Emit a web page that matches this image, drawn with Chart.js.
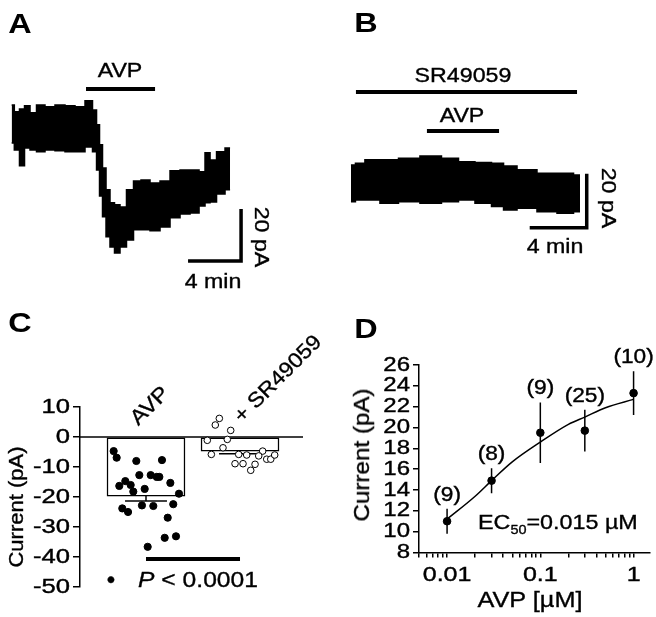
<!DOCTYPE html>
<html>
<head>
<meta charset="utf-8">
<script src="https://cdn.jsdelivr.net/npm/chart.js@4.4.1/dist/chart.umd.min.js"></script>
<style>
body { margin: 0; background: #fff; }
#fig { position: relative; width: 656px; height: 617px; overflow: hidden; font-family: "Liberation Sans", Arial, sans-serif; color: #000; }
#fig canvas { position: absolute; }
.t { position: absolute; white-space: nowrap; line-height: 1; -webkit-text-stroke: 0.35px #000; }
</style>
</head>
<body>
<div id="fig">
  <canvas id="chartA" width="328" height="300" style="left:0;top:0"></canvas>
  <canvas id="chartB" width="326" height="300" style="left:330px;top:0"></canvas>
  <canvas id="chartC" width="330" height="317" style="left:0;top:300px"></canvas>
  <canvas id="chartD" width="326" height="317" style="left:330px;top:300px"></canvas>
</div>
<script>
// A: whole-cell current, AVP alone (min, pA) - upper / lower edge of the noisy trace
const aTime  = [0.05,0.45,0.83,1.21,1.66,2.19,2.94,3.70,4.45,5.21,5.96,6.34,6.57,6.79,7.02,7.32,7.62,8.00,8.45,8.98,9.51,10.11,10.87,11.62,12.38,13.13,13.89,14.49,14.79,15.25,15.77,16.53];
const aUpper = [8.8,6.2,7.3,8.5,5.8,8.8,8.1,8.8,8.5,8.1,10.4,6.9,1.2,-6.5,-15.4,-23.8,-28.8,-29.6,-30.4,-23.8,-20.4,-20.0,-21.2,-20.4,-16.5,-16.2,-16.2,-16.9,-9.6,-12.3,-9.2,-7.7];
const aLower = [-5.8,-8.5,-14.6,-7.7,-8.5,-9.2,-8.5,-8.8,-9.2,-9.2,-7.3,-9.2,-16.2,-26.2,-34.2,-41.9,-45.8,-48.1,-45.8,-43.1,-39.2,-39.2,-39.6,-38.1,-34.6,-33.1,-32.7,-30.0,-28.8,-28.5,-25.4,-23.8];
const aAvp = [5.66, 10.87];

// B: AVP in presence of SR49059
const bTime  = [0,0.63,1.33,2.74,3.93,5.75,6.95,8.14,9.26,10.46,10.95,12.35,13.75,15.16,16.07];
const bUpper = [7.4,8.0,9.3,9.3,9.9,10.7,9.9,8.6,8.3,8.0,7.0,5.6,4.3,4.3,3.7];
const bLower = [-6.2,-5.6,-5.6,-6.8,-6.2,-6.8,-6.2,-5.6,-6.8,-8.0,-9.3,-8.6,-9.9,-10.5,-9.9];
const bSr  = [0.35, 15.86];
const bAvp = [5.33, 10.39];

// scale bars
const barMin = 4, barPa = 20;

// C: individual cells and mean +/- SEM
const cGroups = ['AVP', '+ SR49059'];
const cAvpX = [0.656,0.688,0.897,1.170,0.929,1.050,1.114,1.142,0.780,0.716,0.837,0.865,0.986,1.259,1.351,0.748,0.809,0.957,1.078,1.290,1.231,1.199,1.319,1.018];
const cAvpY = [-4.7,-6.9,-8.0,-7.7,-12.7,-12.7,-13.3,-13.3,-14.7,-16.3,-16.0,-18.2,-17.3,-15.3,-18.9,-23.8,-25.0,-22.8,-23.0,-22.4,-26.9,-33.6,-33.1,-36.6];
const cSrX = [1.780,1.737,1.901,1.652,1.865,1.819,1.695,1.986,2.071,2.241,2.199,1.947,2.032,2.160,2.114,2.284,2.327,2.369];
const cSrY = [6.2,4.0,2.2,-1.1,-0.8,-3.6,-5.8,-5.8,-6.0,-4.7,-6.3,-8.9,-8.9,-9.1,-11.1,-7.4,-7.4,-6.0];
const cMean = [-19.7, -4.7];
const cSem = [1.6, 0.9];
const cTicks = [-50, -40, -30, -20, -10, 0, 10];

// D: concentration-response
const dConc = [0.01, 0.03, 0.1, 0.3, 1];
const dMean = [11.0, 14.9, 19.5, 19.7, 23.3];
const dErr  = [1.2, 1.2, 2.9, 2.0, 2.1];
const dN    = [9, 8, 9, 25, 10];
const fitConc    = [0.01, 0.02, 0.03, 0.05, 0.1, 0.2, 0.3, 0.5, 1];
const fitCurrent = [11.2, 13.4, 14.9, 16.7, 18.6, 20.3, 21.0, 21.9, 22.7];
const dXLabels = [0.01, 0.1, 1];

Chart.defaults.animation = false;
Chart.defaults.responsive = false;
Chart.defaults.plugins.legend.display = false;
Chart.defaults.plugins.tooltip.enabled = false;
Chart.defaults.font.family = '"Liberation Sans", Arial, sans-serif';

const FONT = '"Liberation Sans", Arial, sans-serif';
const fig = document.getElementById('fig');

function addText(html, x, y, o = {}) {
  const d = document.createElement('div');
  d.className = 't';
  d.innerHTML = html;
  d.style.left = x + 'px';
  d.style.top = y + 'px';
  d.style.fontSize = (o.size || 20) + 'px';
  if (o.bold) { d.style.fontWeight = 'bold'; d.style.webkitTextStroke = '0'; }
  const sx = o.sx || 1.16;
  if (o.left) {
    d.style.transformOrigin = '0 50%';
    d.style.transform = 'translate(0,-50%) scaleX(' + sx + ')';
  } else {
    d.style.transform = 'translate(-50%,-50%) rotate(' + (o.rot || 0) + 'deg) scaleX(' + sx + ')';
  }
  fig.appendChild(d);
}

function canvasText(ctx, text, x, y, size, align, sx) {
  ctx.save();
  ctx.translate(x, y);
  ctx.scale(sx, 1);
  ctx.font = size + 'px ' + FONT;
  ctx.fillStyle = '#000';
  ctx.strokeStyle = '#000';
  ctx.lineWidth = 0.4;
  ctx.textAlign = align;
  ctx.textBaseline = 'middle';
  ctx.fillText(text, 0, 0);
  ctx.strokeText(text, 0, 0);
  ctx.restore();
}

function seg(points, width, order) {
  return { type: 'line', data: points, borderColor: '#000', borderWidth: width, pointRadius: 0, fill: false, tension: 0, order: order || 0 };
}

function xy(xs, ys) {
  return xs.map((x, i) => ({ x: x, y: ys[i] }));
}

// noisy recording drawn as a filled band between its two edges
function traceSets(time, upper, lower) {
  return [
    { type: 'line', data: xy(time, upper), borderColor: '#000', borderWidth: 1.5, pointRadius: 0, fill: false, stepped: 'middle' },
    { type: 'line', data: xy(time, lower), borderColor: '#000', borderWidth: 1.5, pointRadius: 0, fill: '-1', backgroundColor: '#000', stepped: 'middle' }
  ];
}

function scaleBar(cx, cy) {
  return seg([{ x: cx - barMin, y: cy }, { x: cx, y: cy }, { x: cx, y: cy + barPa }], 3.5);
}

// ---- A ----
new Chart(document.getElementById('chartA'), {
  type: 'line',
  data: {
    datasets: traceSets(aTime, aUpper, aLower).concat([
      seg([{ x: aAvp[0], y: 15 }, { x: aAvp[1], y: 15 }], 4),
      scaleBar(17.36, -51.2)
    ])
  },
  options: {
    layout: { padding: 0 },
    scales: {
      x: { type: 'linear', display: false, min: -0.83, max: 23.92 },
      y: { display: false, min: -66.2, max: 49.2 }
    }
  }
});

// ---- B ----
new Chart(document.getElementById('chartB'), {
  type: 'line',
  data: {
    datasets: traceSets(bTime, bUpper, bLower).concat([
      seg([{ x: bSr[0], y: 34.4 }, { x: bSr[1], y: 34.4 }], 4),
      seg([{ x: bAvp[0], y: 20.0 }, { x: bAvp[1], y: 20.0 }], 4),
      scaleBar(16.54, -15.8)
    ])
  },
  options: {
    layout: { padding: 0 },
    scales: {
      x: { type: 'linear', display: false, min: -1.47, max: 21.40 },
      y: { display: false, min: -42.6, max: 68.5 }
    }
  }
});

// ---- C ----
const cXMin = 0.298, cXMax = 2.670, capHalf = 0.223;
const cErrSets = [];
cMean.forEach((m, i) => {
  const x = i + 1, lo = m - cSem[i];
  cErrSets.push(seg([{ x: x, y: m }, { x: x, y: lo }], 1.5, 2));
  cErrSets.push(seg([{ x: x - capHalf, y: lo }, { x: x + capHalf, y: lo }], 1.5, 2));
});

new Chart(document.getElementById('chartC'), {
  type: 'bar',
  data: {
    datasets: [
      { type: 'scatter', data: xy(cAvpX, cAvpY), pointRadius: 3.6, pointBackgroundColor: '#000', pointBorderColor: '#000', order: 1 },
      { type: 'scatter', data: xy(cSrX, cSrY), pointRadius: 3.3, pointBackgroundColor: '#fff', pointBorderColor: '#000', pointBorderWidth: 1, order: 1 },
      ...cErrSets,
      seg([{ x: 1, y: -40.7 }, { x: 2, y: -40.7 }], 4, 2),
      seg([{ x: cXMin, y: 0 }, { x: cXMax, y: 0 }], 1.5, 3),
      { type: 'bar', data: [{ x: 1, y: cMean[0] }, { x: 2, y: cMean[1] }], barThickness: 78, backgroundColor: '#fff', borderColor: '#000', borderWidth: 1.5, borderSkipped: false, order: 4 }
    ]
  },
  options: {
    layout: { padding: { left: 0, top: 107, right: 27, bottom: 30 } },
    scales: {
      x: { type: 'linear', display: false, min: cXMin, max: cXMax, offset: false },
      y: {
        min: -50, max: 10,
        afterBuildTicks: s => { s.ticks = cTicks.map(v => ({ value: v })); },
        ticks: { display: false },
        grid: { drawOnChartArea: false, drawTicks: true, tickLength: 7, color: '#000', lineWidth: 1.5 },
        border: { display: true, color: '#000', width: 1.5 },
        afterFit: s => { s.width = 80; }
      }
    }
  },
  plugins: [{
    id: 'cLabels',
    afterDraw(chart) {
      const y = chart.scales.y;
      y.ticks.forEach(t => canvasText(chart.ctx, String(t.value), y.right - 10, y.getPixelForValue(t.value), 20, 'right', 1.28));
    }
  }]
});

// ---- D ----
const dErrPts = [];
dConc.forEach((c, i) => {
  dErrPts.push({ x: c, y: dMean[i] + dErr[i] }, { x: c, y: dMean[i] - dErr[i] }, { x: c, y: null });
});

new Chart(document.getElementById('chartD'), {
  type: 'scatter',
  data: {
    datasets: [
      { type: 'scatter', data: xy(dConc, dMean), pointRadius: 3.8, pointBackgroundColor: '#000', pointBorderColor: '#000', order: 1 },
      { type: 'line', data: dErrPts, borderColor: '#000', borderWidth: 1.5, pointRadius: 0, spanGaps: false, order: 2 },
      { type: 'line', data: xy(fitConc, fitCurrent), borderColor: '#000', borderWidth: 1.5, pointRadius: 0, cubicInterpolationMode: 'monotone', order: 3 }
    ]
  },
  options: {
    layout: { padding: { left: 0, top: 65, right: 6, bottom: 0 } },
    scales: {
      x: {
        type: 'logarithmic', min: 0.005, max: 1.5,
        ticks: { display: false },
        afterBuildTicks: s => {
          s.ticks = s.ticks.filter(t => {
            const e = Math.floor(Math.log10(t.value) + 1e-9);
            const sig = t.value / Math.pow(10, e);
            return Math.abs(sig - Math.round(sig)) < 1e-6;
          });
        },
        grid: { drawOnChartArea: false, drawTicks: true, tickLength: 5, color: '#000', lineWidth: 1.5 },
        border: { display: true, color: '#000', width: 1.5 },
        afterFit: s => { s.height = 64.5; }
      },
      y: {
        min: 8, max: 26,
        ticks: { display: false, stepSize: 2 },
        grid: { drawOnChartArea: false, drawTicks: true, tickLength: 6, color: '#000', lineWidth: 1.5 },
        border: { display: true, color: '#000', width: 1.5 },
        afterFit: s => { s.width = 89; }
      }
    }
  },
  plugins: [{
    id: 'dLabels',
    afterDraw(chart) {
      const ctx = chart.ctx, x = chart.scales.x, y = chart.scales.y;
      y.ticks.forEach(t => canvasText(ctx, String(t.value), y.right - 9, y.getPixelForValue(t.value), 20, 'right', 1.2));
      dXLabels.forEach(v => canvasText(ctx, String(v), x.getPixelForValue(v), x.top + 23, 20, 'center', 1.25));
      dConc.forEach((c, i) => canvasText(ctx, '(' + dN[i] + ')', x.getPixelForValue(c), y.getPixelForValue(dMean[i] + dErr[i]) - 14, 21, 'center', 1.08));
    }
  }]
});

// ---- text annotations ----
addText('A', 19.5, 24, { size: 27, bold: true, sx: 1.2 });
addText('AVP', 120, 69.5);
addText('4 min', 213, 280.7);
addText('20 pA', 262, 237, { rot: 90 });

addText('B', 365.5, 22.5, { size: 27, bold: true, sx: 1.2 });
addText('SR49059', 463, 75);
addText('AVP', 462, 114.5);
addText('4 min', 555, 246);
addText('20 pA', 609, 198, { rot: 90 });

addText('C', 19.5, 323, { size: 27, bold: true, sx: 1.2 });
addText(cGroups[0], 149, 405, { size: 21, rot: -45, sx: 1.12 });
addText(cGroups[1], 277, 378, { size: 21, rot: -45, sx: 1.08 });
addText('Current (pA)', 16, 507, { size: 20, rot: -90, sx: 1.1 });
addText('&bull;', 111, 580, { size: 24, sx: 1 });
addText('<i>P</i> &lt; 0.0001', 198, 580, { size: 22, sx: 1.12 });

addText('D', 365.5, 328.5, { size: 27, bold: true, sx: 1.2 });
addText('Current (pA)', 362, 455, { size: 22, rot: -90, sx: 1.1 });
addText('AVP [&micro;M]', 530, 600, { size: 22, sx: 1.15 });
addText('EC<span style="font-size:13px;position:relative;top:5px">50</span>=0.015 &micro;M', 478, 521, { size: 21, sx: 1.11, left: true });
</script>
</body>
</html>
